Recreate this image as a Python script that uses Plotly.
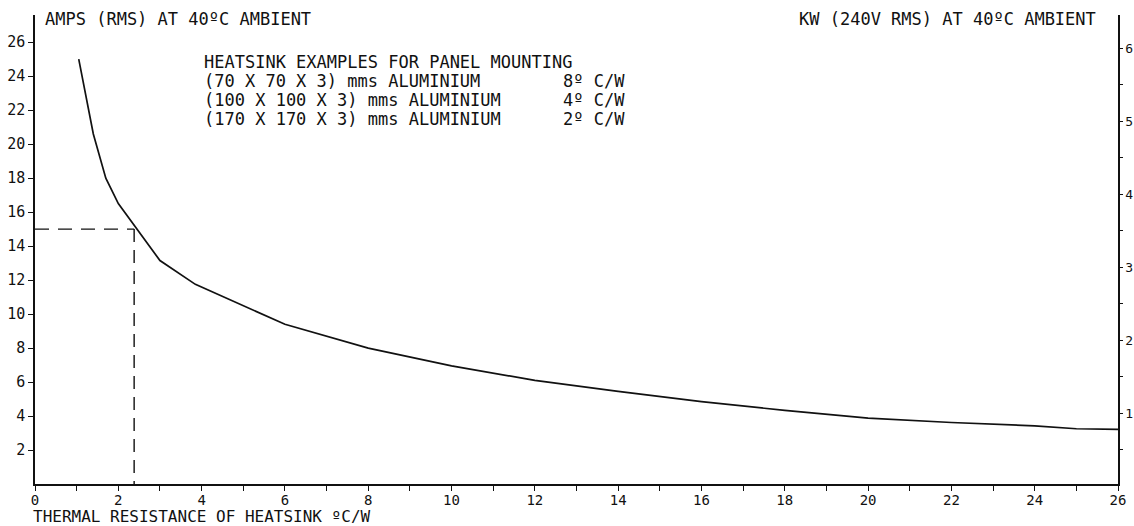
import plotly.graph_objects as go

# ---- data ----
thermal_resistance = [1.05, 1.4, 1.7, 2.0, 3.0, 3.85, 6.0, 8.0, 10.0, 12.0, 14.0, 16.0, 18.0, 20.0, 22.0, 24.0, 25.0, 26.0]
amps_rms = [25.0, 20.6, 18.0, 16.5, 13.15, 11.75, 9.4, 8.0, 6.95, 6.1, 5.45, 4.85, 4.33, 3.88, 3.62, 3.42, 3.25, 3.22]

operating_point_x = 2.38
operating_point_y = 15.0

x_ticks = list(range(0, 27, 2))
y_ticks = list(range(2, 27, 2))
kw_ticks = [1, 2, 3, 4, 5, 6]

heatsink_names = ["(70 X 70 X 3) mms ALUMINIUM",
                  "(100 X 100 X 3) mms ALUMINIUM",
                  "(170 X 170 X 3) mms ALUMINIUM"]
heatsink_values = ["8º C/W", "4º C/W", "2º C/W"]

FONT = "DejaVu Sans Mono"
INK = "#111111"

W, H = 1134, 526
L, R, T, B = 35, 16, 15, 42
pw, ph = W - L - R, H - T - B


def px_x(p):
    return (p - L) / pw


def px_y(p):
    return (H - B - p) / ph


fig = go.Figure()

fig.add_trace(go.Scatter(x=thermal_resistance, y=amps_rms, mode="lines",
                         line=dict(color=INK, width=1.7), showlegend=False,
                         hoverinfo="skip"))
fig.add_trace(go.Scatter(x=[0, operating_point_x], y=[operating_point_y, operating_point_y],
                         mode="lines", line=dict(color=INK, width=1.4, dash="14px,9px"),
                         showlegend=False, hoverinfo="skip"))
fig.add_trace(go.Scatter(x=[operating_point_x, operating_point_x], y=[operating_point_y, 0],
                         mode="lines", line=dict(color=INK, width=1.4, dash="13px,8px"),
                         showlegend=False, hoverinfo="skip"))
# invisible trace to activate the right axis
fig.add_trace(go.Scatter(x=[0], y=[1], yaxis="y2", mode="markers",
                         marker=dict(opacity=0), showlegend=False, hoverinfo="skip"))

annotations = []


def add_text(text, xp, yp, anchor="left", size=17):
    annotations.append(dict(text=text, xref="paper", yref="paper",
                            x=px_x(xp), y=px_y(yp), xanchor=anchor, yanchor="middle",
                            showarrow=False, borderpad=0,
                            font=dict(family=FONT, size=size, color=INK)))


add_text("AMPS (RMS) AT 40ºC AMBIENT", 44, 19)
add_text("KW (240V RMS) AT 40ºC AMBIENT", 1097, 19, anchor="right")
add_text("THERMAL RESISTANCE OF HEATSINK ºC/W", 32, 516, size=16)
add_text("HEATSINK EXAMPLES FOR PANEL MOUNTING", 203, 62)
for i, (nm, val) in enumerate(zip(heatsink_names, heatsink_values)):
    yy = 81 + 19 * i
    add_text(nm, 203, yy)
    add_text(val, 562, yy)

common_axis = dict(ticks="outside", tickwidth=1.3, tickcolor=INK,
                   showline=True, linecolor=INK, linewidth=1.5, showgrid=False,
                   zeroline=False, automargin=False)

fig.update_layout(
    width=W, height=H, autosize=False,
    margin=dict(l=L, r=R, t=T, b=B, pad=0),
    paper_bgcolor="white", plot_bgcolor="white",
    font=dict(family=FONT, size=15, color=INK),
    annotations=annotations,
    xaxis=dict(range=[0, 26], tickvals=x_ticks, ticktext=[str(v) for v in x_ticks], ticklen=2,
               tickfont=dict(family=FONT, size=14, color=INK),
               minor=dict(dtick=1, tick0=0, ticks="outside", ticklen=5, tickwidth=1.3, tickcolor=INK),
               **common_axis),
    yaxis=dict(range=[0, 27.6], tickvals=y_ticks, ticktext=[str(v) for v in y_ticks], ticklen=5,
               tickfont=dict(family=FONT, size=15, color=INK),
               **common_axis),
    yaxis2=dict(overlaying="y", side="right", range=[0.03, 6.456], tickvals=kw_ticks,
                ticktext=[str(v) for v in kw_ticks], ticklen=3,
                tickfont=dict(family=FONT, size=13, color=INK),
                minor=dict(dtick=0.5, tick0=0, ticks="outside", ticklen=3, tickwidth=1.3, tickcolor=INK),
                **common_axis),
)

fig.write_html("out.html", config={"displayModeBar": False},
               post_script="document.body.style.margin='0';")
